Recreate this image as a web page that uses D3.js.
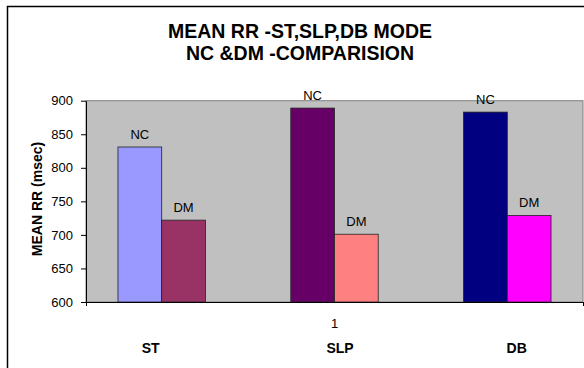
<!DOCTYPE html>
<html lang="en">
<head>
<meta charset="utf-8">
<title>MEAN RR - ST, SLP, DB mode</title>
<script src="https://cdn.jsdelivr.net/npm/d3@7"></script>
<style>
  body { margin: 0; background: #fff; }
  svg { display: block; font-family: "Liberation Sans", Arial, sans-serif; }
</style>
</head>
<body>
<script>
// chart values
var modes = ["ST", "SLP", "DB"];
var groups = ["NC", "DM"];
var ncValues = [831, 889, 883];
var dmValues = [722, 701, 729];
var yTicks = [600, 650, 700, 750, 800, 850, 900];
var titleLines = ["MEAN RR -ST,SLP,DB MODE", "NC &DM -COMPARISION"];

// one colour per bar, NC then DM for each mode
var barColours = [["#9999FF", "#993366"], ["#660066", "#FF8080"], ["#000080", "#FF00FF"]];

var w = 584, h = 368;
var plot = { left: 86, right: 583, top: 100.7, bottom: 302 };

var svg = d3.select("body").append("svg")
  .attr("width", w)
  .attr("height", h);

// outer chart frame (runs off the right and bottom edge)
svg.append("rect")
  .attr("x", 7.5).attr("y", 6.5)
  .attr("width", 600).attr("height", 400)
  .attr("fill", "#fff")
  .attr("stroke", "#000")
  .attr("stroke-width", 1.5);

// title
svg.append("g").selectAll("text")
  .data(titleLines)
  .enter().append("text")
  .attr("x", 300)
  .attr("y", function(d, i) { return 37.7 + i * 22.3; })
  .attr("text-anchor", "middle")
  .attr("font-size", "19.5px")
  .attr("font-weight", "bold")
  .text(function(d) { return d; });

// scales
var y = d3.scaleLinear()
  .domain([600, 900])
  .range([plot.bottom, plot.top]);

var x = d3.scaleBand()
  .domain(modes)
  .range([plot.left, plot.right])
  .paddingInner(0.494)
  .paddingOuter(0.185);

var xInner = d3.scaleBand()
  .domain(groups)
  .range([0, x.bandwidth()]);

// grey plot area
svg.append("rect")
  .attr("x", plot.left).attr("y", plot.top)
  .attr("width", plot.right - plot.left)
  .attr("height", plot.bottom - plot.top)
  .attr("fill", "#C0C0C0")
  .attr("stroke", "#808080")
  .attr("stroke-width", 1);

// bar data built from the arrays
var bars = [];
modes.forEach(function(m, i) {
  bars.push({ mode: m, group: "NC", value: ncValues[i], colour: barColours[i][0] });
  bars.push({ mode: m, group: "DM", value: dmValues[i], colour: barColours[i][1] });
});

svg.append("g").selectAll("rect")
  .data(bars)
  .enter().append("rect")
  .attr("x", function(d) { return x(d.mode) + xInner(d.group); })
  .attr("y", function(d) { return y(d.value); })
  .attr("width", xInner.bandwidth())
  .attr("height", function(d) { return y(600) - y(d.value); })
  .attr("fill", function(d) { return d.colour; })
  .attr("stroke", "#222")
  .attr("stroke-width", 0.8);

// NC / DM labels over bars
svg.append("g").selectAll("text")
  .data(bars)
  .enter().append("text")
  .attr("x", function(d) { return x(d.mode) + xInner(d.group) + xInner.bandwidth() / 2; })
  .attr("y", function(d) { return y(d.value) - 8; })
  .attr("text-anchor", "middle")
  .attr("font-size", "13px")
  .text(function(d) { return d.group; });

// y axis
var yAxis = svg.append("g")
  .attr("transform", "translate(" + plot.left + ",0)")
  .call(d3.axisLeft(y).tickValues(yTicks).tickSize(5).tickPadding(8).tickSizeOuter(0));
yAxis.select(".domain").attr("stroke", "#000");
yAxis.selectAll("text")
  .attr("font-size", "13px")
  .attr("font-family", "'Liberation Sans', Arial, sans-serif")
  .attr("fill", "#000");

// x axis: one category, ticks only at both ends
var xEnds = d3.scaleLinear().domain([0, 1]).range([plot.left, plot.right]);
var xAxis = svg.append("g")
  .attr("transform", "translate(0," + plot.bottom + ")")
  .call(d3.axisBottom(xEnds).tickValues([0, 1]).tickFormat("").tickSize(4).tickSizeOuter(0));
xAxis.select(".domain").attr("stroke", "#000");

svg.append("text")
  .attr("x", xEnds(0.5))
  .attr("y", 328.3)
  .attr("text-anchor", "middle")
  .attr("font-size", "13px")
  .text("1");

// mode names under the axis (hand placed in the original)
var labelShift = [-11, 5.5, 9.4];
svg.append("g").selectAll("text")
  .data(modes)
  .enter().append("text")
  .attr("x", function(d, i) { return x(d) + x.bandwidth() / 2 + labelShift[i]; })
  .attr("y", 353.3)
  .attr("text-anchor", "middle")
  .attr("font-size", "14px")
  .attr("font-weight", "bold")
  .text(function(d) { return d; });

// y axis title
svg.append("text")
  .attr("transform", "translate(41.7,199) rotate(-90)")
  .attr("text-anchor", "middle")
  .attr("font-size", "14px")
  .attr("font-weight", "bold")
  .text("MEAN RR (msec)");
</script>
</body>
</html>
